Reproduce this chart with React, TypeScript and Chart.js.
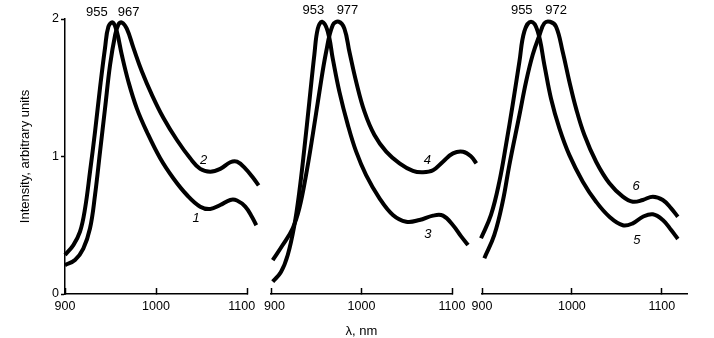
import React, { useEffect, useRef } from "react";
import { Chart, registerables } from "chart.js";

Chart.register(...registerables);

const FONT = "'Liberation Sans', Arial, Helvetica, sans-serif";

// ---- axis ticks ----
const xTickValues = [900, 1000, 1100];
const yTickValues = [0, 1, 2];

// ---- panel 1 ----
const lambda1 = [900, 909.2, 916.5, 922, 927.5, 933, 938.5, 944, 947.7, 952.5, 956.9, 962.4, 969.7, 978.9, 989.9, 1004.6, 1019.2, 1034, 1048.6, 1059.6, 1070.6, 1081.6, 1089, 1098.1, 1105.5, 1110.2];
const intensity1 = [0.284, 0.356, 0.453, 0.62, 0.89, 1.18, 1.5, 1.79, 1.944, 1.975, 1.91, 1.74, 1.544, 1.35, 1.18, 0.987, 0.84, 0.72, 0.635, 0.618, 0.647, 0.684, 0.68, 0.635, 0.56, 0.5];
const lambda2 = [900, 911, 920.1, 927.5, 933, 938.5, 944, 949.5, 955, 958.7, 962.4, 967.9, 975.2, 984.4, 995.4, 1008.2, 1023, 1037.6, 1048.6, 1059.6, 1070.6, 1081.6, 1089, 1098, 1107.3, 1112.8];
const intensity2 = [0.21, 0.247, 0.33, 0.478, 0.72, 1.035, 1.35, 1.665, 1.88, 1.96, 1.975, 1.93, 1.79, 1.62, 1.45, 1.28, 1.12, 0.987, 0.91, 0.89, 0.91, 0.958, 0.962, 0.914, 0.84, 0.79];

// ---- panel 2 ----
const lambda3 = [901.9, 911, 918.5, 925.8, 931.3, 936.9, 942.4, 947.9, 951.7, 956.4, 962.7, 968.3, 975.6, 984.9, 994.1, 1005.1, 1019.9, 1034.7, 1049.4, 1064.1, 1079, 1090, 1101.1, 1110.3, 1117.7];
const intensity3 = [0.09, 0.16, 0.284, 0.5, 0.744, 1.06, 1.4, 1.74, 1.93, 1.98, 1.91, 1.71, 1.47, 1.23, 1.035, 0.865, 0.696, 0.575, 0.526, 0.538, 0.57, 0.57, 0.5, 0.417, 0.356];
const lambda4 = [901.9, 912.9, 924, 931.3, 938.7, 946.1, 953.5, 960.9, 968.3, 974.9, 981.1, 986.7, 994.1, 1003.3, 1014.3, 1027.3, 1042, 1056.8, 1067.9, 1079, 1090, 1101.1, 1112.2, 1121.4, 1126.9];
const intensity4 = [0.247, 0.356, 0.478, 0.623, 0.865, 1.156, 1.47, 1.76, 1.956, 1.98, 1.93, 1.76, 1.544, 1.326, 1.156, 1.035, 0.95, 0.895, 0.885, 0.9, 0.962, 1.023, 1.035, 0.998, 0.95];

// ---- panel 3 ----
const lambda5 = [898.9, 910, 919.3, 926.7, 934.1, 941.6, 947.1, 954.5, 962, 969.4, 976.8, 986.1, 997.2, 1012.1, 1026.9, 1041.7, 1056.6, 1067.7, 1078.9, 1090, 1101.1, 1110.4, 1117.8];
const intensity5 = [0.405, 0.575, 0.817, 1.084, 1.375, 1.69, 1.91, 1.98, 1.91, 1.665, 1.42, 1.205, 1.01, 0.817, 0.671, 0.562, 0.5, 0.514, 0.562, 0.58, 0.538, 0.465, 0.4];
const lambda6 = [902.6, 913.7, 923, 930.4, 941.6, 949, 956.4, 963.8, 969.4, 975.7, 982.4, 989.8, 997.2, 1004.6, 1013.9, 1026.9, 1041.7, 1056.6, 1067.7, 1078.9, 1090, 1101.1, 1110.4, 1117.8];
const intensity6 = [0.26, 0.43, 0.671, 0.938, 1.3, 1.544, 1.74, 1.88, 1.97, 1.98, 1.944, 1.76, 1.544, 1.35, 1.156, 0.962, 0.805, 0.708, 0.671, 0.684, 0.708, 0.684, 0.623, 0.562];

// ---- text annotations (data coordinates) ----
const peakText1 = ["955", "967"];
const peakLambda1 = [935, 970];
const peakText2 = ["953", "977"];
const peakLambda2 = [946.8, 984.5];
const peakText3 = ["955", "972"];
const peakLambda3 = [944.2, 982.4];
const peakLevel1 = 2.05;
const peakLevel = 2.065;

const curveText1 = ["1", "2"];
const curveLambda1 = [1044.2, 1052.2];
const curveLevel1 = [0.55, 0.97];
const curveText2 = ["3", "4"];
const curveLambda2 = [1073.4, 1072.7];
const curveLevel2 = [0.43, 0.97];
const curveText3 = ["5", "6"];
const curveLambda3 = [1072.2, 1071.4];
const curveLevel3 = [0.393, 0.78];

const toPoints = (xs: number[], ys: number[]) => xs.map((x, i) => ({ x, y: ys[i] }));

type TextItem = { text: string; x: number; y: number; italic?: boolean };

const buildItems = (
  peaks: string[], peakXs: number[], level: number, curves: string[], curveXs: number[], curveYs: number[]
): TextItem[] => [
  ...peaks.map((t, i) => ({ text: t, x: peakXs[i], y: level })),
  ...curves.map((t, i) => ({ text: t, x: curveXs[i], y: curveYs[i], italic: true })),
];

const textPlugin = {
  id: "panelText",
  afterDatasetsDraw(chart: any, _args: any, opts: any) {
    const { ctx, scales } = chart;
    ctx.save();
    ctx.fillStyle = "#000";
    ctx.textAlign = "center";
    ctx.textBaseline = "middle";
    for (const t of (opts.items || []) as TextItem[]) {
      ctx.font = `${t.italic ? "italic " : ""}13px ${FONT}`;
      ctx.fillText(t.text, scales.x.getPixelForValue(t.x), scales.y.getPixelForValue(t.y));
    }
    ctx.restore();
  },
};

type PanelCfg = {
  left: number;
  width: number;
  padLeft: number;
  padRight: number;
  xMax: number;
  showY: boolean;
  xTitle?: string;
  spacesBefore: Record<number, number>;
  spacesAfter: Record<number, number>;
  series: { x: number[]; y: number[] }[];
  items: TextItem[];
};

const H = 338;

function Panel({ cfg }: { cfg: PanelCfg }) {
  const ref = useRef<HTMLCanvasElement | null>(null);
  useEffect(() => {
    if (!ref.current) return;
    const chart = new Chart(ref.current, {
      type: "line",
      data: {
        datasets: cfg.series.map((s) => ({
          data: toPoints(s.x, s.y),
          borderColor: "#000",
          borderWidth: 4,
          pointRadius: 0,
          fill: false,
          tension: 0.4,
          clip: false,
          borderCapStyle: "butt",
          borderJoinStyle: "round",
        })),
      } as any,
      options: {
        animation: false,
        responsive: false,
        devicePixelRatio: 1,
        events: [],
        layout: { padding: { left: cfg.padLeft, right: cfg.padRight, top: 19, bottom: 0 } },
        plugins: {
          legend: { display: false },
          tooltip: { enabled: false },
          panelText: { items: cfg.items },
        } as any,
        scales: {
          x: {
            type: "linear",
            bounds: "data",
            afterDataLimits: (s: any) => {
              s.min = 900;
              s.max = cfg.xMax;
            },
            afterBuildTicks: (s: any) => {
              s.ticks = xTickValues.map((v) => ({ value: v }));
            },
            afterFit: (s: any) => {
              s.height = 44;
            },
            ticks: {
              color: "#000",
              font: { family: FONT, size: 12.5 },
              padding: 11,
              maxRotation: 0,
              autoSkip: false,
              callback: (v: any) =>
                " ".repeat(cfg.spacesBefore[v] || 0) + String(v) + " ".repeat(cfg.spacesAfter[v] || 0),
            },
            grid: {
              drawOnChartArea: false,
              drawTicks: true,
              tickLength: -6,
              tickColor: "#000",
              tickWidth: 1.5,
              color: "#000",
            },
            border: { display: true, color: "#000", width: 1.5 },
            title: {
              display: !!cfg.xTitle,
              text: cfg.xTitle || "",
              color: "#000",
              font: { family: FONT, size: 13, lineHeight: 1 },
              padding: { top: 0, bottom: 0 },
            },
          },
          y: {
            type: "linear",
            display: cfg.showY,
            min: 0,
            max: 2,
            afterBuildTicks: (s: any) => {
              s.ticks = yTickValues.map((v) => ({ value: v }));
            },
            afterFit: (s: any) => {
              s.width = cfg.showY ? 65 : 0;
            },
            ticks: {
              color: "#000",
              font: { family: FONT, size: 12.5 },
              padding: 2,
              callback: (v: any) => String(v),
            },
            grid: {
              drawOnChartArea: false,
              drawTicks: true,
              tickLength: 4,
              tickColor: "#000",
              tickWidth: 1.5,
              color: "#000",
            },
            border: { display: true, color: "#000", width: 1.5 },
            title: {
              display: true,
              text: "Intensity, arbitrary units",
              color: "#000",
              font: { family: FONT, size: 13 },
              padding: { top: 18, bottom: 0 },
            },
          },
        },
      } as any,
      plugins: [textPlugin as any],
    });
    return () => chart.destroy();
  }, [cfg]);
  return (
    <canvas
      ref={ref}
      width={cfg.width}
      height={H}
      style={{ position: "absolute", left: cfg.left, top: 0, width: cfg.width, height: H }}
    />
  );
}

const panels: PanelCfg[] = [
  {
    left: 0,
    width: 277,
    padLeft: 0,
    padRight: 30,
    xMax: 1100,
    showY: true,
    spacesBefore: {},
    spacesAfter: { 1100: 3 },
    series: [
      { x: lambda1, y: intensity1 },
      { x: lambda2, y: intensity2 },
    ],
    items: buildItems(peakText1, peakLambda1, peakLevel1, curveText1, curveLambda1, curveLevel1),
  },
  {
    left: 241,
    width: 241,
    padLeft: 30,
    padRight: 30,
    xMax: 1100,
    showY: false,
    xTitle: "λ, nm",
    spacesBefore: { 900: 2 },
    spacesAfter: {},
    series: [
      { x: lambda3, y: intensity3 },
      { x: lambda4, y: intensity4 },
    ],
    items: buildItems(peakText2, peakLambda2, peakLevel, curveText2, curveLambda2, curveLevel2),
  },
  {
    left: 452,
    width: 255,
    padLeft: 30,
    padRight: 20,
    xMax: 1128,
    showY: false,
    spacesBefore: {},
    spacesAfter: {},
    series: [
      { x: lambda5, y: intensity5 },
      { x: lambda6, y: intensity6 },
    ],
    items: buildItems(peakText3, peakLambda3, peakLevel, curveText3, curveLambda3, curveLevel3),
  },
];

export default function App() {
  return (
    <div style={{ position: "fixed", left: 0, top: 0, width: 714, height: H, background: "#fff" }}>
      {panels.map((p, i) => (
        <Panel key={i} cfg={p} />
      ))}
    </div>
  );
}
